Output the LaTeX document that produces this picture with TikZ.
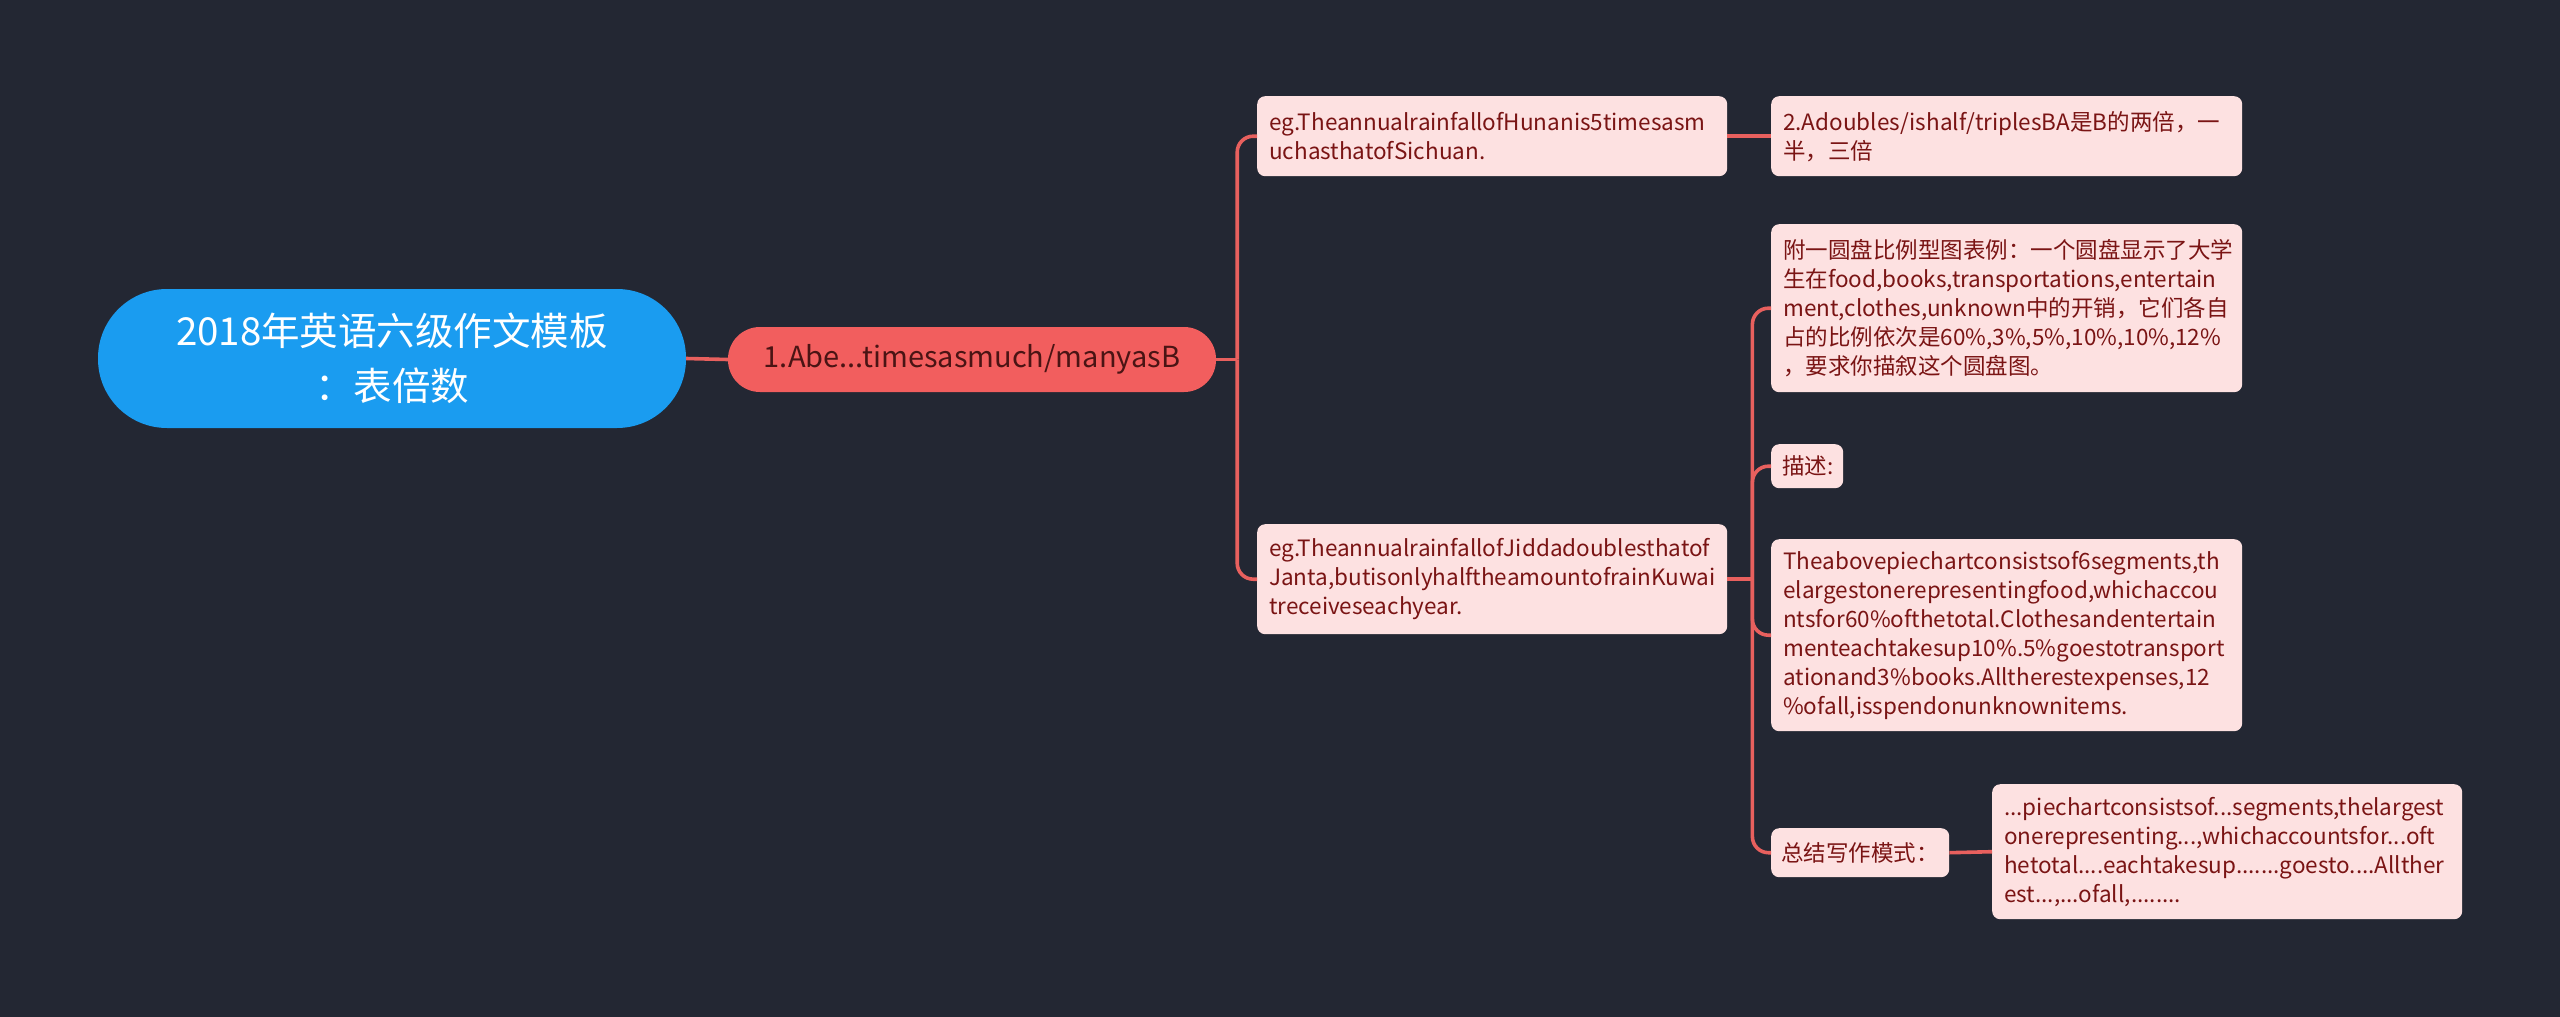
\documentclass[tikz,border=0pt]{standalone}
\usepackage{fontspec}
\setmainfont{Noto Sans CJK SC}
\definecolor{bg}{HTML}{232733}
\definecolor{rootc}{HTML}{1A9CF0}
\definecolor{lone}{HTML}{F25E5E}
\definecolor{pinkc}{HTML}{FDE1E1}
\definecolor{txt}{HTML}{7A1414}
\definecolor{lonetxt}{HTML}{4A1414}
\definecolor{lnk}{HTML}{E8605E}
\begin{document}
\begin{tikzpicture}[x=1pt,y=-1pt,
  leaf/.style={fill=pinkc, rounded corners=8pt, anchor=north west, inner xsep=12pt, inner ysep=0pt, align=left, text=txt, font=\fontsize{22.5}{29}\selectfont},
  link/.style={draw=lnk, line width=3.6pt},
  branchlink/.style={draw=lnk, line width=3.6pt, rounded corners=16pt}]
\fill[bg] (0,0) rectangle (2560,1017);
\useasboundingbox (0,0) rectangle (2560,1017);

\node[fill=rootc, rounded corners=69pt, minimum width=588pt, minimum height=139pt, inner sep=0pt, text=white, align=center, font=\fontsize{38.5}{55}\selectfont] (root) at (392,358.5) {2018年英语六级作文模板\\：表倍数};

\node[fill=lone, rounded corners=32pt, minimum width=488pt, minimum height=65pt, inner sep=0pt, text=lonetxt, font=\fontsize{29}{34}\selectfont] (l1) at (972,359.5) {1.Abe...timesasmuch/manyasB};

\node[leaf, text width=446pt, minimum height=80pt] (a) at (1257,96) {eg.TheannualrainfallofHunanis5timesasm\\uchasthatofSichuan.};
\node[leaf, text width=447pt, minimum height=80pt] (a1) at (1771,96) {2.Adoubles/ishalf/triplesBA是B的两倍，一\\半，三倍};
\node[leaf, text width=446pt, minimum height=110pt] (b) at (1257,524) {eg.TheannualrainfallofJiddadoublesthatof\\Janta,butisonlyhalftheamountofrainKuwai\\treceiveseachyear.};
\node[leaf, text width=447pt, minimum height=168pt] (c1) at (1771,224) {附一圆盘比例型图表例：一个圆盘显示了大学\\生在food,books,transportations,entertain\\ment,clothes,unknown中的开销，它们各自\\占的比例依次是60\%,3\%,5\%,10\%,10\%,12\%\\，要求你描叙这个圆盘图。};
\node[leaf, text width=50pt, inner xsep=11pt, minimum height=44pt] (c2) at (1771,444) {描述:};
\node[leaf, text width=447pt, minimum height=192pt] (c3) at (1771,539) {Theabovepiechartconsistsof6segments,th\\elargestonerepresentingfood,whichaccou\\ntsfor60\%ofthetotal.Clothesandentertain\\menteachtakesup10\%.5\%goestotransport\\ationand3\%books.Alltherestexpenses,12\\\%ofall,isspendonunknownitems.};
\node[leaf, text width=157.5pt, inner xsep=10.25pt, minimum height=49pt] (c4) at (1771,828) {总结写作模式：};
\node[leaf, text width=446pt, minimum height=135pt] (d) at (1992,784) {...piechartconsistsof...segments,thelargest\\onerepresenting...,whichaccountsfor...oft\\hetotal....eachtakesup.......goesto....Allther\\est...,...ofall,........};

\path (l1.east) ++(21,0) coordinate (j1);
\path (b.east) ++(25,0) coordinate (j2);

\draw[link] (root.east) -- (l1.west);
\draw[link] (l1.east) -- (j1);
\draw[branchlink] (j1) |- (a.west);
\draw[branchlink] (j1) |- (b.west);
\draw[link] (a.east) -- (a1.west);
\draw[link] (b.east) -- (j2);
\draw[branchlink] (j2) |- (c1.west);
\draw[branchlink] (j2) |- (c2.west);
\draw[branchlink] (j2) |- (c3.west);
\draw[branchlink] (j2) |- (c4.west);
\draw[link] (c4.east) -- (d.west);
\end{tikzpicture}
\end{document}
